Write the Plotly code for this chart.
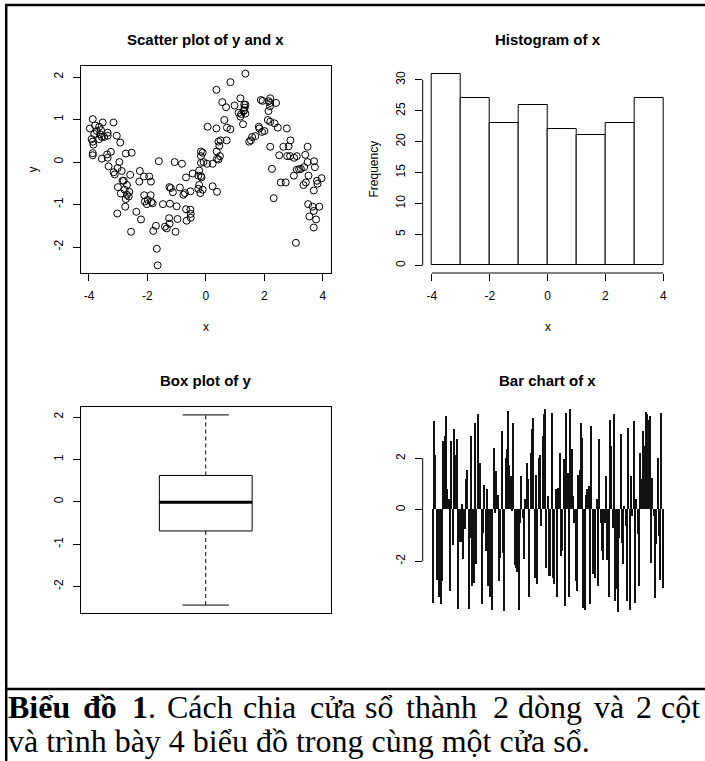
import plotly.graph_objects as go

# ---------------- data ----------------
scatter_x = [-3.87, -3.97, -3.79, -3.65, -3.73, -3.59, -3.53, -3.62, -3.56, -3.36, -3.36, -3.91, -3.82, -3.87, -3.85,
             -3.87, -3.87, -3.65, -3.48, -3.16, -3.05, -3.56, -3.36, -3.38, -3.25, -3.33, -3.16, -3.12, -3.02, -3.01,
             -3.03,
             -2.93, -2.96, -2.88, -2.85, -2.81, -2.91, -2.78, -2.70, -2.70, -2.62, -2.74, -2.64, -2.76, -2.56, -2.74,
             -2.54, -2.59, -2.38, -2.22, -2.28, -2.26, -2.12, -2.11, -2.09, -2.02,
             -1.94, -1.88, -1.99, -1.89, -1.86, -1.82, -1.80, -1.71, -1.61, -1.68, -1.65, -1.47, -1.40, -1.34, -1.24,
             -1.26, -1.23, -1.25, -1.20, -1.13, -1.07, -1.00, -1.04,
             -0.97, -0.82, -0.89, -0.77, -0.72, -0.68, -0.68, -0.66, -0.53, -0.52, -0.52, -0.53, -0.45, -0.17, -0.11,
             -0.17, -0.17, -0.08, -0.23, -0.26, -0.17, -0.15, -0.23, -0.26, -0.11, -0.19,
             0.06, 0.36, 0.36, 0.84, 0.63, 0.72, 0.84, 0.56, 0.69, 0.98, 0.23, 0.38, 0.04, 0.23, 0.38, 0.43, 0.48,
             0.37, 0.46, 0.43, 0.50, 0.71,
             1.35, 1.18, 1.12, 1.21, 1.29, 1.27, 1.31, 1.35, 1.33, 1.31, 1.35, 1.18, 1.48, 1.54, 1.58, 1.69, 1.81,
             1.83, 1.92, 1.88, 1.94,
             2.00, 2.20, 2.15, 2.20, 2.40, 2.14, 2.19, 2.12, 2.20, 2.35, 2.46, 2.77, 2.20, 2.26, 2.32, 2.51, 2.56,
             2.73, 2.65, 2.83, 2.89, 2.78, 2.88,
             3.02, 3.11, 3.01, 3.11, 3.19, 3.25, 3.36, 3.40, 3.48, 3.48, 3.51, 3.42, 3.34, 3.70, 3.73, 3.80, 3.82,
             3.96, 3.69, 3.50, 3.65, 3.88, 3.69, 3.54, 3.77, 3.69, 3.08]
scatter_y = [1.01, 0.79, 0.86, 0.83, 0.73, 0.75, 0.93, 0.65, 0.59, 0.69, 0.62, 0.54, 0.66, 0.48, 0.41,
             0.16, 0.21, 0.54, 0.59, 0.93, 0.62, 0.08, 0.10, 0.18, 0.24, -0.10, -0.24, -0.29, -0.14, -0.59,
             -1.21,
             0.46, 0.00, -0.21, -0.44, -0.44, -0.74, -0.65, -0.54, -0.77, -0.70, -0.87, -0.81, -1.05, -1.64, 0.20,
             0.22, -0.30, -1.17, -1.35, -0.46, -0.21, -0.34, -0.78, -0.93, -0.99,
             -0.34, -0.46, -0.89, -0.78, -0.94, -0.97, -1.62, -1.50, 0.02, -2.04, -2.43, -0.99, -1.52, -1.56, -1.45,
             -1.32, -0.98, -0.59, -0.61, -0.71, 0.00, -1.04, -1.64,
             -1.34, -0.04, -0.60, -0.77, -0.73, -0.36, -1.11, -1.38, -1.12, -1.22, -1.31, -0.69, -0.27, 0.25, 0.22,
             0.14, -0.02, 0.00, -0.20, -0.32, -0.33, -0.36, -0.54, -0.63, -0.65, -0.73,
             0.83, 0.79, 1.70, 1.88, 0.99, 0.81, 0.77, 1.41, 1.29, 1.33, -0.57, -0.70, -0.04, -0.04, 0.08, 0.06, 0.14,
             0.25, 0.38, 0.48, 0.51, 0.51,
             2.08, 1.50, 1.16, 1.13, 1.20, 0.89, 1.35, 1.35, 1.28, 1.22, 1.14, 1.07, 0.48, 0.51, 0.59, 0.61, 0.83,
             0.79, 0.71, 1.46, 1.44,
             0.73, 1.50, 1.43, 1.39, 1.39, 1.20, 1.31, 0.99, 0.95, 0.91, 0.81, 0.79, 0.36, -0.16, -0.85, 0.16, -0.48,
             -0.48, 0.36, 0.37, 0.51, 0.14, 0.14,
             0.10, 0.14, -0.32, -0.18, -0.17, -0.16, -0.12, 0.17, 0.36, 0.00, -0.32, -0.48, -0.54, 0.02, -0.12, -0.44,
             -0.51, -0.38, -0.67, -0.99, -1.05, -1.05, -1.15, -1.28, -1.35, -1.54, -1.90]

hist_edges = [-4, -3, -2, -1, 0, 1, 2, 3, 4]
hist_counts = [31, 27, 23, 26, 22, 21, 23, 27]

# boxplot statistics of y: lower whisker, Q1, median, Q3, upper whisker
box_stats = [-2.44, -0.69, -0.01, 0.62, 2.05]

bar_values = [-3.64, 3.44, 2.14, -2.73, -2.70, -3.40, -3.70, -2.80, 2.66, 2.86, 3.64, 0.78, 0.40, -3.18, 2.66,
              -1.40, 3.12, 2.14, 2.73, -3.87, -1.26, -1.26, 0.23, -1.92, -0.78, 1.17, 1.53, -3.87, -1.10, 2.88,
              -2.99, -2.86, 3.38, -2.14, 3.70, 0.26, 1.82, -3.70, -0.90, 0.97, -1.60, 0.78, -2.99, -3.40, -1.92,
              -3.90, 2.40, -0.13, 1.49, 0.58, -2.79, -1.88, 3.05, -1.71, -3.96, 2.00, 2.34, 3.83, 1.75, 1.32,
              -0.06, 3.38, -2.18, -2.27, -2.44, -3.90, -0.52, 1.30, -0.32, -1.92, 0.39, 1.82, 1.19, -3.40, 2.21,
              3.12, 3.57, -2.66, 1.36, -2.92, 2.00, 2.14, -0.65, 2.86, 3.70, 3.90, -2.27, 0.52, -2.60, -2.60,
              3.77, -2.66, -2.92, 0.80, -3.40, 0.84, 2.18, -1.82, -1.60, 1.95, -3.77, 3.77, 1.43, -3.40, 3.92,
              2.34, 0.52, -0.52, -2.79, -3.18, 1.36, 1.55, 3.38, 2.79, -3.83, -3.90, 0.58, 0.78, 0.91, -3.70,
              3.25, -2.53, -0.78, -2.66, 0.39, -2.99, 2.73, -0.52, -1.60, -1.95, -0.52, 1.30, -1.95, -3.40, 3.50,
              2.47, -0.71, 3.70, -3.57, -3.10, -4.00, -1.10, 2.92, -1.30, -2.14, 0.13, -0.65, -3.57, 3.18, -3.90,
              1.30, -0.26, 3.44, -3.64, 0.39, -0.97, -2.99, 2.21, 1.17, 3.05, 2.47, 3.79, 3.70, 3.50, 3.64,
              -2.08, 1.23, -0.26, -3.44, -1.36, 2.00, -1.04, -2.73, 3.77, -3.05]

scatter_xticks = [-4, -2, 0, 2, 4]
scatter_yticks = [-2, -1, 0, 1, 2]
hist_xticks = [-4, -2, 0, 2, 4]
hist_yticks = [0, 5, 10, 15, 20, 25, 30]
box_yticks = [-2, -1, 0, 1, 2]
bar_yticks = [-2, 0, 2]

titles = ["Scatter plot of y and x", "Histogram of x", "Box plot of y", "Bar chart of x"]
caption_line1 = ["<b>Biểu</b>", "<b>đồ</b>", "<b>1</b>.", "Cách", "chia", "cửa", "sổ", "thành", "2",
                 "dòng", "và", "2", "cột"]
caption_line2 = "và trình bày 4 biểu đồ trong cùng một cửa sổ."

# ---------------- layout helpers ----------------
W, H = 705, 761


def fx(p):
    return p / W


def fy(p):
    return 1 - p / H


def lab(v):
    return [str(t) for t in v]


SANS = "Liberation Sans, Arial, sans-serif"
SERIF = "Liberation Serif, Times New Roman, serif"
tickfont = dict(family=SANS, size=12, color="black")

L_COL = (80.5, 331.0)
R_COL = (422.7, 672.5)
T_ROW = (66.0, 273.0)
B_ROW = (407.3, 612.7)

fig = go.Figure()

# scatter
fig.add_trace(go.Scatter(x=scatter_x, y=scatter_y, mode="markers",
                         marker=dict(symbol="circle-open", size=7, color="black", line=dict(width=1)),
                         xaxis="x", yaxis="y", showlegend=False))

# histogram
centers = [(hist_edges[i] + hist_edges[i + 1]) / 2 for i in range(len(hist_counts))]
widths = [hist_edges[i + 1] - hist_edges[i] for i in range(len(hist_counts))]
fig.add_trace(go.Bar(x=centers, y=hist_counts, width=widths,
                     marker=dict(color="white", line=dict(color="black", width=1)),
                     xaxis="x2", yaxis="y2", showlegend=False))

# box plot drawn from stats
lo, q1, med, q3, hi = box_stats
bx0, bx1, cx0, cx1 = 0.8, 1.2, 0.9, 1.1
line_k = dict(color="black", width=1)
fig.add_trace(go.Scatter(x=[bx0, bx1, bx1, bx0, bx0], y=[q1, q1, q3, q3, q1], mode="lines",
                         line=line_k, xaxis="x3", yaxis="y3", showlegend=False))
fig.add_trace(go.Scatter(x=[1, 1], y=[q3, hi], mode="lines", line=dict(color="black", width=1, dash="4px,3px"),
                         xaxis="x3", yaxis="y3", showlegend=False))
fig.add_trace(go.Scatter(x=[1, 1], y=[q1, lo], mode="lines", line=dict(color="black", width=1, dash="4px,3px"),
                         xaxis="x3", yaxis="y3", showlegend=False))
fig.add_trace(go.Scatter(x=[cx0, cx1], y=[hi, hi], mode="lines", line=line_k,
                         xaxis="x3", yaxis="y3", showlegend=False))
fig.add_trace(go.Scatter(x=[cx0, cx1], y=[lo, lo], mode="lines", line=line_k,
                         xaxis="x3", yaxis="y3", showlegend=False))
fig.add_trace(go.Scatter(x=[bx0, bx1], y=[med, med], mode="lines", line=dict(color="black", width=3),
                         xaxis="x3", yaxis="y3", showlegend=False))

# bar chart
n = len(bar_values)
fig.add_trace(go.Bar(x=list(range(1, n + 1)), y=bar_values, width=0.9,
                     marker=dict(color="#111111", line=dict(width=0)),
                     xaxis="x4", yaxis="y4", showlegend=False))

common = dict(showgrid=False, zeroline=False, ticks="outside", ticklen=7, tickwidth=1, tickcolor="black",
              tickfont=tickfont, linecolor="black", linewidth=1, ticklabelstandoff=5)

fig.update_layout(
    width=W, height=H, margin=dict(l=0, r=0, t=0, b=0),
    paper_bgcolor="white", plot_bgcolor="white", showlegend=False, bargap=0,
    xaxis=dict(domain=[fx(L_COL[0]), fx(L_COL[1])], range=[-4.29, 4.28], anchor="y",
               tickvals=scatter_xticks, ticktext=lab(scatter_xticks), showline=True, mirror=True, **common),
    yaxis=dict(domain=[fy(T_ROW[1]), fy(T_ROW[0])], range=[-2.61, 2.26], anchor="x",
               tickvals=scatter_yticks, ticktext=lab(scatter_yticks), tickangle=-90,
               showline=True, mirror=True, **common),
    xaxis2=dict(domain=[fx(R_COL[0]), fx(R_COL[1])], range=[-4.32, 4.32], anchor="y2",
                tickvals=hist_xticks, ticktext=lab(hist_xticks), showline=False, **common),
    yaxis2=dict(domain=[fy(T_ROW[1]), fy(T_ROW[0])], range=[-1.24, 32.24], anchor="x2",
                tickvals=hist_yticks, ticktext=lab(hist_yticks), tickangle=-90, showline=False, **common),
    xaxis3=dict(domain=[fx(L_COL[0]), fx(L_COL[1])], range=[0.46, 1.54], anchor="y3",
                showticklabels=False, showgrid=False, zeroline=False, ticks="",
                showline=True, mirror=True, linecolor="black", linewidth=1),
    yaxis3=dict(domain=[fy(B_ROW[1]), fy(B_ROW[0])], range=[-2.62, 2.23], anchor="x3",
                tickvals=box_yticks, ticktext=lab(box_yticks), tickangle=-90,
                showline=True, mirror=True, **common),
    xaxis4=dict(domain=[fx(R_COL[0]), fx(R_COL[1])], range=[0.5 - 0.04 * n, n + 0.5 + 0.04 * n],
                anchor="y4", visible=False),
    yaxis4=dict(domain=[fy(B_ROW[1]), fy(B_ROW[0])], range=[-4.01, 3.99], anchor="x4",
                tickvals=bar_yticks, ticktext=lab(bar_yticks), tickangle=-90, showline=False, **common),
)

shapes = []
# R-style detached axis lines
shapes.append(dict(type="line", xref="x2", yref="y2 domain", x0=min(hist_xticks), x1=max(hist_xticks),
                   y0=0, y1=0, line=dict(color="black", width=1)))
shapes.append(dict(type="line", xref="x2 domain", yref="y2", x0=0, x1=0, y0=min(hist_yticks),
                   y1=max(hist_yticks), line=dict(color="black", width=1)))
shapes.append(dict(type="line", xref="x4 domain", yref="y4", x0=0, x1=0, y0=min(bar_yticks),
                   y1=max(bar_yticks), line=dict(color="black", width=1)))
# outer frame and caption separator
shapes.append(dict(type="line", xref="paper", yref="paper", x0=fx(6.2), x1=fx(6.2), y0=0, y1=fy(4),
                   line=dict(color="black", width=2.5)))
shapes.append(dict(type="line", xref="paper", yref="paper", x0=fx(5), x1=1, y0=fy(5), y1=fy(5),
                   line=dict(color="black", width=2.5)))
shapes.append(dict(type="line", xref="paper", yref="paper", x0=fx(5), x1=1, y0=fy(689), y1=fy(689),
                   line=dict(color="black", width=2.5)))
fig.update_layout(shapes=shapes)

ann = []
title_y = [39, 39, 380, 380]
title_x = [sum(L_COL) / 2, sum(R_COL) / 2, sum(L_COL) / 2, sum(R_COL) / 2]
for t, xx, yy in zip(titles, title_x, title_y):
    ann.append(dict(text=f"<b>{t}</b>", x=fx(xx), y=fy(yy), xref="paper", yref="paper", showarrow=False,
                    xanchor="center", yanchor="middle", font=dict(family=SANS, size=15, color="black")))
# axis labels
for xx in [sum(L_COL) / 2, sum(R_COL) / 2]:
    ann.append(dict(text="x", x=fx(xx), y=fy(327), xref="paper", yref="paper", showarrow=False,
                    xanchor="center", yanchor="middle", font=dict(family=SANS, size=12, color="black")))
ann.append(dict(text="y", x=fx(32), y=fy(sum(T_ROW) / 2), xref="paper", yref="paper", showarrow=False,
                textangle=-90, xanchor="center", yanchor="middle",
                font=dict(family=SANS, size=12, color="black")))
ann.append(dict(text="Frequency", x=fx(373), y=fy(sum(T_ROW) / 2), xref="paper", yref="paper",
                showarrow=False, textangle=-90, xanchor="center", yanchor="middle",
                font=dict(family=SANS, size=12, color="black")))
# caption (first line justified word by word across the box width)
word_x = [7, 82, 131, 166, 242, 309, 364, 405, 492, 517, 593, 635, 660]
for word, xx in zip(caption_line1, word_x):
    ann.append(dict(text=word, x=fx(xx), y=fy(707), xref="paper", yref="paper", showarrow=False,
                    xanchor="left", yanchor="middle", borderpad=0,
                    font=dict(family=SERIF, size=32, color="black")))
ann.append(dict(text=caption_line2, x=fx(7), y=fy(741), xref="paper", yref="paper", showarrow=False,
                xanchor="left", yanchor="middle", borderpad=0,
                font=dict(family=SERIF, size=32, color="black")))
fig.update_layout(annotations=ann)

fig.write_html("out.html")
